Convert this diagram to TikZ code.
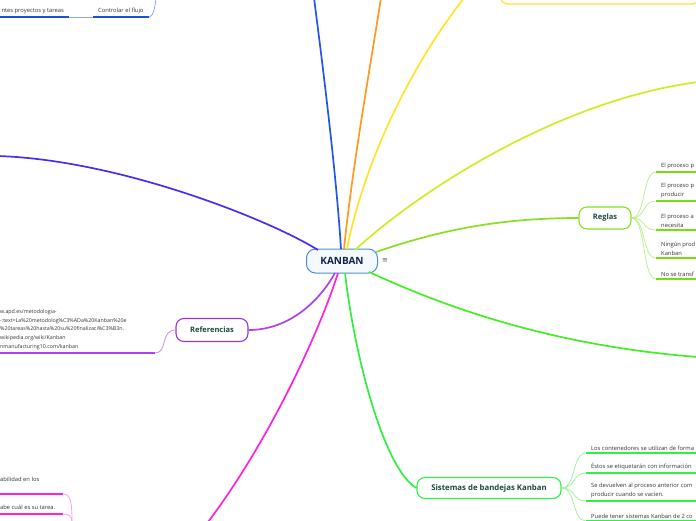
\documentclass[tikz,border=0pt]{standalone}
\usepackage{fontspec}
\setmainfont{Open Sans}
\newfontfamily\dejavu{DejaVu Sans}
\usetikzlibrary{calc}
\definecolor{kbBorder}{HTML}{4A90D0}
\definecolor{kbFill}{HTML}{F4F9FE}
\definecolor{kbText}{HTML}{0F2548}
\definecolor{topicText}{HTML}{1B4A3A}
\definecolor{leafText}{HTML}{333333}
\definecolor{blueM}{HTML}{2255EE}
\definecolor{blueU}{HTML}{1A4FE0}
\definecolor{blueT}{HTML}{8AA8F0}
\definecolor{orangeM}{HTML}{FF9A1F}
\definecolor{yellowM}{HTML}{FFE52A}
\definecolor{ygM}{HTML}{CCEE22}
\definecolor{limeM}{HTML}{88E022}
\definecolor{limeU}{HTML}{77DD11}
\definecolor{limeT}{HTML}{BDF090}
\definecolor{greenR}{HTML}{44EE22}
\definecolor{greenS}{HTML}{33EE44}
\definecolor{greenT}{HTML}{9DF5A0}
\definecolor{purpleL}{HTML}{4B2DF0}
\definecolor{violetM}{HTML}{B040F0}
\definecolor{violetB}{HTML}{9933DD}
\definecolor{violetT}{HTML}{CC8CF2}
\definecolor{magM}{HTML}{FF22DD}
\definecolor{magT}{HTML}{FF9CEE}
\begin{document}
\begin{tikzpicture}[x=1pt,y=-1pt,
  kanban/.style={draw=kbBorder, line width=1pt, fill=kbFill, rounded corners=9pt,
    minimum width=71pt, minimum height=24pt, inner sep=0pt,
    font=\bfseries\fontsize{10}{12}\selectfont, text=kbText},
  topic/.style={draw=#1, line width=1.1pt, fill=white, rounded corners=8pt, inner sep=0pt,
    font=\bfseries\fontsize{7.5}{9}\selectfont, text=topicText},
  leaf/.style={font=\fontsize{5.8}{9}\selectfont, text=leafText, align=left,
    inner xsep=5pt, inner ysep=2.5pt, anchor=south west},
  branch/.style={draw=#1, line width=1.7pt},
  uline/.style={draw=#1, line width=1.8pt},
  twig/.style={draw=#1, line width=0.8pt}
]
\useasboundingbox (0,0) rectangle (696,520);
\clip (0,0) rectangle (696,520);

% ---------- main nodes ----------
\node[kanban] (k) at (342,261) {KANBAN};
\node[font=\dejavu\fontsize{7}{8}\selectfont, text=black!65] (menu) at (385,261) {≡};
\node[topic=limeM, minimum width=52pt, minimum height=22pt] (reglas) at (605,218) {Reglas};
\node[topic=violetB, minimum width=72pt, minimum height=23pt] (refs) at (212,330) {Referencias};
\node[topic=greenS, minimum width=144pt, minimum height=21pt, font=\bfseries\fontsize{7.8}{9}\selectfont] (sis) at (489,488) {Sistemas de bandejas Kanban};
\node[draw=yellowM, line width=1.2pt, rounded corners=8pt, minimum width=200pt,
  minimum height=30pt, inner sep=0pt] (ybox) at (600,-11) {};

% ---------- off-page ends ----------
\coordinate (blueEnd) at (314,-2);
\coordinate (orangeEnd) at (381,-2);
\coordinate (yellowEnd) at (464,-2);
\coordinate (ygEnd) at (698,82);
\coordinate (greenEnd) at (698,357);
\coordinate (purpleEnd) at (-2,156);
\coordinate (magEnd) at (208,522);

% ---------- main branches ----------
\draw[branch=blueM] (341,249) .. controls (336,170) and (322,60) .. (blueEnd);
\draw[branch=orangeM] (344,249) .. controls (352,170) and (368,80) .. (orangeEnd);
\draw[branch=yellowM] (347,249) .. controls (360,180) and (400,80) .. (yellowEnd);
\draw[branch=ygM] (355,250) .. controls (420,190) and (560,100) .. (ygEnd);
\draw[branch=limeM] (376,252) .. controls (440,230) and (500,218) .. (reglas.west);
\draw[branch=greenR] (369,272) .. controls (430,300) and (540,345) .. (greenEnd);
\draw[branch=greenS] (345,273) .. controls (355,360) and (385,470) .. (sis.west);
\draw[branch=purpleL] (318,250) .. controls (270,220) and (120,160) .. (purpleEnd);
\draw[branch=violetM] (335,273) .. controls (320,300) and (290,330) .. (refs.east);
\draw[branch=magM] (338,273) .. controls (320,330) and (270,440) .. (magEnd);

% ---------- Reglas children ----------
\node[leaf] (r1) at (656,172) {El proceso p};
\node[leaf] (r2) at (656,201) {El proceso p\\producir};
\node[leaf] (r3) at (656,230) {El proceso a\\necesita};
\node[leaf] (r4) at (656,258) {Ningún prod\\Kanban};
\node[leaf] (r5) at (656,279) {No se transf};
\foreach \n/\yy in {r1/172,r2/201,r3/230,r4/258,r5/279}{
  \draw[twig=limeT] (reglas.east) .. controls (646,218) and (642,\yy) .. (\n.south west);
  \draw[uline=limeU] (\n.south west) -- ++(50,0);
}

% ---------- Sistemas children ----------
\node[leaf] (s1) at (586,453) {Los contenedores se utilizan de forma};
\node[leaf] (s2) at (586,473) {Éstos se etiquetarán con información};
\node[leaf] (s3) at (586,501) {Se devuelven al proceso anterior com\\producir cuando se vacíen.};
\node[leaf] (s4) at (586,521) {Puede tener sistemas Kanban de 2 co};
\foreach \n/\yy in {s1/453,s2/473,s3/501,s4/521}{
  \draw[twig=greenT] (sis.east) .. controls (576,488) and (572,\yy) .. (\n.south west);
  \draw[uline=greenS] (\n.south west) -- ++(120,0);
}

% ---------- Referencias child ----------
\node[font=\fontsize{5.3}{8.8}\selectfont, text=leafText, align=left, inner sep=0pt,
  anchor=north west] (refText) at (0,309)
  {w.apd.es/metodologia-\\-:text=La\%20metodolog\%C3\%ADa\%20Kanban\%20e\\\%20tareas\%20hasta\%20su\%20finalizaci\%C3\%B3n.\\wikipedia.org/wiki/Kanban\\nmanufacturing10.com/kanban};
\coordinate (refEnd) at (155,353);
\coordinate (refStart) at (-2,353);
\draw[uline=violetM] (refStart) -- (refEnd);
\draw[twig=violetT] (refEnd) .. controls (168,353) and (160,330) .. (refs.west);

% ---------- top-left (blue) children ----------
\node[leaf, anchor=south east] (tl1) at (69,17) {ntes proyectos y tareas};
\node[leaf] (tl2) at (93,17) {Controlar el flujo};
\coordinate (tl0) at (-2,17);
\coordinate (tl3) at (149,17);
\coordinate (tlTop) at (156,-2);
\draw[uline=blueU] (tl0) -- (tl1.south east);
\draw[uline=blueU] (tl2.south west) -- (tl3);
\draw[twig=blueT] (tl1.south east) -- (tl2.south west);
\draw[twig=blueT] (tl3) .. controls (153,17) and (155,8) .. (tlTop);

% ---------- bottom-left (magenta) children ----------
\node[font=\fontsize{5.8}{9}\selectfont, text=leafText, anchor=west, inner sep=0pt] (bl1) at (0,479) {abilidad en los};
\node[font=\fontsize{5.8}{9}\selectfont, text=leafText, anchor=west, inner sep=0pt] (bl2) at (0,507) {abe cuál es su tarea.};
\coordinate (bl1a) at (-2,494);
\coordinate (bl1b) at (63,494);
\coordinate (bl2a) at (-2,514);
\coordinate (bl2b) at (63,514);
\coordinate (blDown) at (72,522);
\draw[uline=magM] (bl1a) -- (bl1b);
\draw[uline=magM] (bl2a) -- (bl2b);
\draw[twig=magT] (bl1b) .. controls (70,494) and (72,500) .. (blDown);
\draw[twig=magT] (bl2b) .. controls (69,514) and (72,516) .. (blDown);
\end{tikzpicture}
\end{document}
